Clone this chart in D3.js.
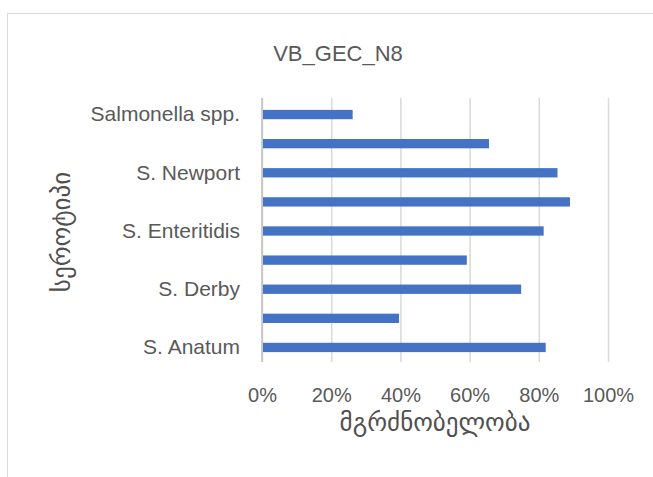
<!DOCTYPE html>
<html>
<head>
<meta charset="utf-8">
<script src="https://cdn.jsdelivr.net/npm/d3@7"></script>
<style>
  html, body { margin: 0; padding: 0; background: #fff; }
  svg { display: block; }
</style>
</head>
<body>
<svg id="chart" width="653" height="477"></svg>
<script>
// ---- data ----
const title = "VB_GEC_N8";
const categories = ["Salmonella spp.", "", "S. Newport", "", "S. Enteritidis", "", "S. Derby", "", "S. Anatum"];
const values = [0.262, 0.656, 0.854, 0.89, 0.814, 0.592, 0.749, 0.396, 0.82];
const xTicks = [0, 0.2, 0.4, 0.6, 0.8, 1.0];
const xTitle = "მგრძნობელობა";
const yTitle = "სეროტიპი";

// ---- layout ----
const svg = d3.select("#chart");
const plot = { left: 262, right: 608, top: 100, bottom: 362 };
const textColor = "#595959";
const font = "'Liberation Sans', Arial, sans-serif";
const geoFont = "'DejaVu Sans', sans-serif";

// chart border (cropped)
svg.append("rect")
  .attr("x", 7.5).attr("y", 13.5)
  .attr("width", 700).attr("height", 500)
  .attr("fill", "#fff").attr("stroke", "#d9d9d9").attr("stroke-width", 1);

const x = d3.scaleLinear().domain([0, 1]).range([plot.left, plot.right]);
const idx = categories.map((d, i) => i);
const y = d3.scaleBand().domain(idx).range([plot.top, plot.bottom]).paddingInner(0.68).paddingOuter(0.34);

// gridlines
const xAxis = d3.axisBottom(x).tickValues(xTicks).tickFormat(d3.format(".0%")).tickSize(-(plot.bottom - plot.top + 2)).tickPadding(26);
const gx = svg.append("g").attr("transform", `translate(0,${plot.bottom})`).call(xAxis);
gx.select(".domain").remove();
gx.selectAll(".tick line").attr("stroke", "#d9d9d9").attr("stroke-width", 1.5);
gx.selectAll(".tick text")
  .attr("fill", textColor).attr("font-family", font).attr("font-size", 20)
  .attr("dy", "0.71em");

// y axis line
svg.append("line")
  .attr("x1", x(0)).attr("x2", x(0))
  .attr("y1", plot.top - 2).attr("y2", plot.bottom)
  .attr("stroke", "#bfbfbf").attr("stroke-width", 1.5);

// bars
svg.append("g").selectAll("rect").data(values).join("rect")
  .attr("x", x(0) + 1)
  .attr("y", (d, i) => y(i))
  .attr("width", d => x(d) - x(0) - 1)
  .attr("height", y.bandwidth())
  .attr("fill", "#4472C4");

// y category labels
const yAxis = d3.axisLeft(y).tickFormat(i => categories[i]).tickSize(0).tickPadding(22);
const gy = svg.append("g").attr("transform", `translate(${plot.left},0)`).call(yAxis);
gy.select(".domain").remove();
gy.selectAll(".tick text")
  .attr("fill", textColor).attr("font-family", font).attr("font-size", 21);

// title
svg.append("text")
  .attr("x", 338).attr("y", 61)
  .attr("text-anchor", "middle")
  .attr("fill", textColor).attr("font-family", font).attr("font-size", 22)
  .text(title);

// x axis title
svg.append("text")
  .attr("x", 435).attr("y", 431)
  .attr("text-anchor", "middle")
  .attr("fill", "#505050").attr("font-family", geoFont).attr("font-size", 25)
  .text(xTitle);

// y axis title
svg.append("text")
  .attr("transform", `translate(70,232) rotate(-90)`)
  .attr("text-anchor", "middle")
  .attr("fill", "#505050").attr("font-family", geoFont).attr("font-size", 25)
  .text(yTitle);
</script>
</body>
</html>
